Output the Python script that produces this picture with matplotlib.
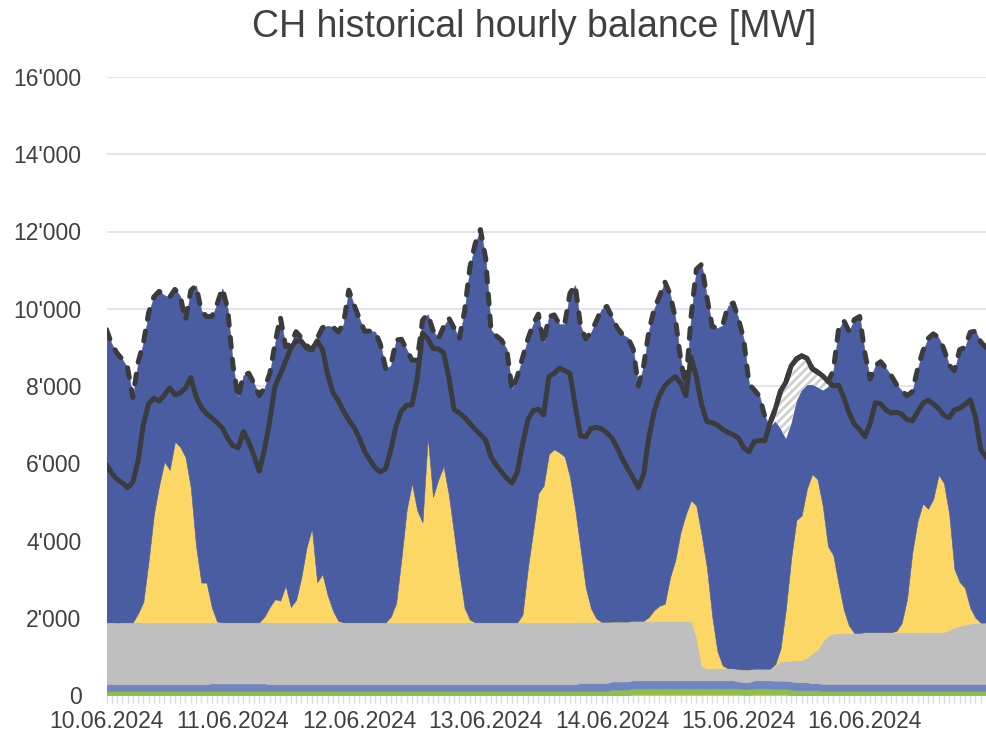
import matplotlib

matplotlib.use("Agg")
import matplotlib.pyplot as plt
import numpy as np
from matplotlib.ticker import FuncFormatter, MultipleLocator

plt.rcParams["font.family"] = ["Liberation Sans", "DejaVu Sans"]
plt.rcParams["hatch.linewidth"] = 2.0

TITLE = "CH historical hourly balance [MW]"
day_labels = ["10.06.2024", "11.06.2024", "12.06.2024", "13.06.2024",
              "14.06.2024", "15.06.2024", "16.06.2024"]

# stündliche Werte in MW, eine Zeile pro Tag (10.06. – 16.06.2024)
production = [
    9460, 9080, 8850, 8690, 8470, 7700, 8610, 9110, 9900, 10310, 10450, 10350,
    10300, 10500, 10330, 9700, 10470, 10600, 9950, 9800, 9800, 10120, 10530, 10000,
    8550, 7700, 8280, 8330, 8070, 7750, 7950, 8320, 9100, 9790, 9020, 9090,
    9406, 9250, 9050, 8850, 9230, 9510, 9560, 9530, 9400, 9600, 10480, 10100,
    9750, 9420, 9420, 9410, 9080, 8450, 8530, 9190, 9210, 8940, 8670, 8670,
    9700, 9860, 9440, 9220, 9530, 9760, 9500, 9235, 9950, 11070, 11680, 12050,
    11300, 9450, 9300, 9190, 8950, 7900, 8250, 8730, 9210, 9600, 9860, 9100,
    9795, 9840, 9600, 9600, 10400, 10610, 9560, 9220, 9390, 9680, 9990, 10060,
    9780, 9500, 9330, 9250, 8960, 8000, 8530, 9430, 10000, 10320, 10700, 10380,
    9760, 8700, 8000, 9800, 11020, 11150, 10300, 9540, 9500, 9570, 10070, 10150,
    9740, 9200, 8050, 7900, 7730, 7210, 6950, 7090, 6900, 6640, 7030, 7610,
    7900, 8030, 8040, 7970, 7890, 7980, 8390, 9460, 9690, 9420, 9720, 9800,
    8850, 8180, 8530, 8630, 8460, 8270, 8040, 7880, 7750, 7850, 8430, 8900,
    9230, 9350, 9250, 8960, 8540, 8390, 8940, 9000, 9390, 9420, 9140, 9000,
]

consumption = [
    5960, 5740, 5590, 5490, 5370, 5510, 6060, 7010, 7540, 7680, 7610, 7770,
    7950, 7775, 7820, 7950, 8220, 7730, 7445, 7280, 7170, 7050, 6910, 6650,
    6460, 6400, 6820, 6550, 6200, 5790, 6350, 7100, 8000, 8300, 8640, 8980,
    9170, 9150, 8980, 8930, 9170, 8950, 8300, 7830, 7620, 7350, 7120, 6930,
    6650, 6310, 6090, 5890, 5775, 5850, 6360, 6970, 7350, 7508, 7508, 8200,
    9364, 9230, 8970, 8960, 8860, 8220, 7390, 7300, 7190, 7030, 6880, 6745,
    6600, 6170, 5955, 5780, 5610, 5490, 5770, 6490, 7120, 7360, 7400, 7250,
    8241, 8330, 8460, 8400, 8328, 7490, 6710, 6680, 6900, 6930, 6890, 6790,
    6650, 6390, 6100, 5850, 5620, 5370, 5720, 6680, 7350, 7760, 8000, 8140,
    8241, 8080, 7750, 8750, 8240, 7510, 7080, 7050, 6990, 6880, 6800, 6740,
    6650, 6400, 6300, 6560, 6590, 6580, 7040, 7410, 7870, 8100, 8520, 8700,
    8780, 8720, 8450, 8360, 8260, 8120, 8000, 8020, 7700, 7300, 7010, 6880,
    6690, 7030, 7565, 7540, 7375, 7300, 7320, 7270, 7130, 7100, 7320, 7550,
    7630, 7540, 7420, 7240, 7180, 7380, 7422, 7520, 7640, 7200, 6350, 6160,
]

solar = [
    0, 0, 0, 0, 0, 0, 230, 530, 1600, 2800, 3550, 4160,
    3950, 4680, 4540, 4280, 3490, 1980, 1030, 1030, 390, 20, 0, 0,
    0, 0, 0, 0, 0, 0, 150, 400, 600, 565, 950, 400,
    580, 1170, 1950, 2430, 1040, 1250, 700, 300, 40, 0, 0, 0,
    0, 0, 0, 0, 0, 0, 150, 500, 1660, 2920, 3600, 2900,
    2590, 4800, 3250, 3700, 4040, 3300, 2280, 1280, 370, 70, 0, 0,
    0, 0, 0, 0, 0, 0, 0, 200, 1400, 2350, 3340, 3540,
    4360, 4480, 4400, 4290, 3760, 2920, 1910, 890, 350, 90, 0, 0,
    0, 0, 0, 0, 0, 0, 0, 100, 280, 390, 440, 1120,
    1570, 2290, 2760, 3120, 3400, 3390, 2610, 1360, 440, 70, 0, 0,
    0, 0, 0, 0, 0, 0, 0, 30, 340, 1350, 2650, 3630,
    3745, 4370, 4640, 4410, 3510, 2310, 2030, 1280, 600, 185, 0, 0,
    0, 0, 0, 0, 0, 0, 35, 245, 855, 2065, 2875, 3335,
    3195, 3455, 4075, 3860, 3010, 1515, 1135, 940, 410, 130, 0, 0,
]

nuclear = [
    1600, 1600, 1595, 1600, 1600, 1600, 1605, 1600, 1600, 1600, 1600, 1600,
    1600, 1600, 1600, 1600, 1600, 1600, 1600, 1600, 1580, 1580, 1580, 1580,
    1580, 1580, 1580, 1580, 1580, 1580, 1580, 1600, 1600, 1600, 1600, 1600,
    1600, 1600, 1600, 1600, 1600, 1600, 1600, 1600, 1600, 1600, 1600, 1600,
    1600, 1600, 1600, 1600, 1600, 1600, 1600, 1600, 1600, 1600, 1600, 1600,
    1600, 1600, 1600, 1600, 1600, 1600, 1600, 1600, 1600, 1600, 1600, 1600,
    1600, 1600, 1600, 1600, 1600, 1600, 1600, 1600, 1600, 1600, 1600, 1600,
    1600, 1600, 1600, 1600, 1600, 1600, 1580, 1580, 1580, 1580, 1580, 1580,
    1550, 1550, 1550, 1550, 1540, 1540, 1540, 1540, 1540, 1540, 1540, 1540,
    1540, 1540, 1540, 1540, 1120, 370, 310, 310, 310, 310, 310, 310,
    320, 330, 330, 300, 300, 300, 300, 400, 500, 510, 540, 570,
    575, 640, 775, 875, 1105, 1255, 1305, 1315, 1320, 1320, 1320, 1320,
    1340, 1340, 1340, 1340, 1340, 1340, 1340, 1340, 1340, 1340, 1340, 1340,
    1340, 1340, 1340, 1345, 1405, 1460, 1505, 1545, 1565, 1583, 1587, 1590,
]

light_blue = [
    180, 180, 180, 180, 180, 180, 180, 180, 180, 180, 180, 180,
    180, 180, 180, 180, 180, 180, 180, 180, 200, 200, 200, 200,
    200, 200, 200, 200, 200, 200, 200, 180, 180, 180, 180, 180,
    180, 180, 180, 180, 180, 180, 180, 180, 180, 180, 180, 180,
    180, 180, 180, 180, 180, 180, 180, 180, 180, 180, 180, 180,
    180, 180, 180, 180, 180, 180, 180, 180, 180, 180, 180, 180,
    180, 180, 180, 180, 180, 180, 180, 180, 180, 180, 180, 180,
    180, 180, 180, 180, 180, 180, 210, 210, 210, 210, 210, 210,
    210, 210, 210, 210, 210, 210, 210, 210, 210, 210, 210, 210,
    210, 210, 210, 210, 210, 210, 210, 210, 210, 210, 210, 210,
    180, 180, 180, 210, 210, 210, 210, 210, 210, 210, 210, 210,
    210, 210, 185, 185, 185, 185, 185, 185, 185, 185, 185, 185,
    185, 185, 185, 185, 185, 185, 185, 185, 185, 185, 185, 185,
    185, 185, 185, 185, 185, 185, 185, 185, 185, 185, 185, 185,
]

green = [
    100, 100, 100, 100, 100, 100, 100, 100, 100, 100, 100, 100,
    100, 100, 100, 100, 100, 100, 100, 100, 100, 100, 100, 100,
    100, 100, 100, 100, 100, 100, 100, 100, 100, 100, 100, 100,
    100, 100, 100, 100, 100, 100, 100, 100, 100, 100, 100, 100,
    100, 100, 100, 100, 100, 100, 100, 100, 100, 100, 100, 100,
    100, 100, 100, 100, 100, 100, 100, 100, 100, 100, 100, 100,
    100, 100, 100, 100, 100, 100, 100, 100, 100, 100, 100, 100,
    100, 100, 100, 100, 100, 100, 100, 100, 100, 100, 100, 100,
    140, 140, 140, 140, 140, 140, 140, 140, 140, 140, 140, 140,
    140, 140, 140, 140, 140, 140, 140, 140, 140, 140, 140, 140,
    140, 140, 140, 140, 140, 140, 140, 140, 140, 140, 140, 120,
    120, 120, 120, 120, 100, 100, 100, 100, 100, 100, 100, 100,
    100, 100, 100, 100, 100, 100, 100, 100, 100, 100, 100, 100,
    100, 100, 100, 100, 100, 100, 100, 100, 100, 100, 100, 100,
]

orange = [0] * 96 + [
    0, 0, 0, 0, 30, 30, 30, 30, 30, 30, 30, 30,
    30, 30, 30, 30, 30, 30, 30, 30, 30, 30, 30, 30,
    30, 10, 10, 30, 30, 30, 30, 20, 20, 20, 0, 0,
    0, 0, 0, 0, 0, 0, 0, 0, 0, 0, 0, 0,
] + [0] * 24

# ---------------------------------------------------------------------------
hours = np.arange(len(production))
prod = np.asarray(production, dtype=float)
cons = np.asarray(consumption, dtype=float)
layers = [orange, green, light_blue, nuclear, solar]
colors = ["#F2A31B", "#8DC04B", "#7385C1", "#BFBFBF", "#FDD766", "#4A5DA3"]
hydro = prod - np.sum(layers, axis=0)   # Rest bis zur Produktionslinie

fig = plt.figure(figsize=(9.86, 7.38), dpi=100)
ax = fig.add_axes([106.5 / 986, 43 / 738, 879.5 / 986, 618 / 738])

bottom = np.zeros_like(prod)
for vals, col in zip(layers + [hydro], colors):
    top = bottom + np.asarray(vals, dtype=float)
    ax.fill_between(hours, bottom, top, facecolor=col, edgecolor=col, lw=0.4, zorder=2)
    bottom = top

# Import (Verbrauch > Produktion)
ax.fill_between(hours, prod, cons, where=cons > prod, interpolate=True,
                facecolor="white", edgecolor="#cfcfcf", hatch="////", lw=0, zorder=3)

line_col = "#3b3b3d"
ax.plot(hours, cons, color=line_col, lw=3.6, solid_joinstyle="round",
        solid_capstyle="round", zorder=4)
ax.plot(hours, np.maximum(prod, cons), color=line_col, lw=3.6, dashes=(2.0, 2.4),
        dash_capstyle="round", zorder=5)

ax.set_xlim(0, 167)
ax.set_ylim(0, 16000)
for s in ax.spines.values():
    s.set_visible(False)

ax.set_yticks(np.arange(0, 16001, 2000))
ax.yaxis.set_major_formatter(FuncFormatter(lambda v, _: f"{int(v):,}".replace(",", "'")))
ax.grid(axis="y", color="#e1e1f0", lw=1.3)
ax.set_axisbelow(True)
ax.tick_params(axis="y", length=0, pad=18, labelsize=16.5, labelcolor="#404040")

ax.set_xticks(np.arange(0, 168, 24))
ax.set_xticklabels(day_labels)
ax.xaxis.set_minor_locator(MultipleLocator(1))
ax.tick_params(axis="x", which="both", length=6, width=1, color="#d8dcee",
               pad=5, labelsize=16.5, labelcolor="#404040")

fig.text(534 / 986, 1 - 37 / 738, TITLE, ha="center", va="baseline",
         fontsize=27, color="#404040")

fig.savefig("out.png", dpi=100)
